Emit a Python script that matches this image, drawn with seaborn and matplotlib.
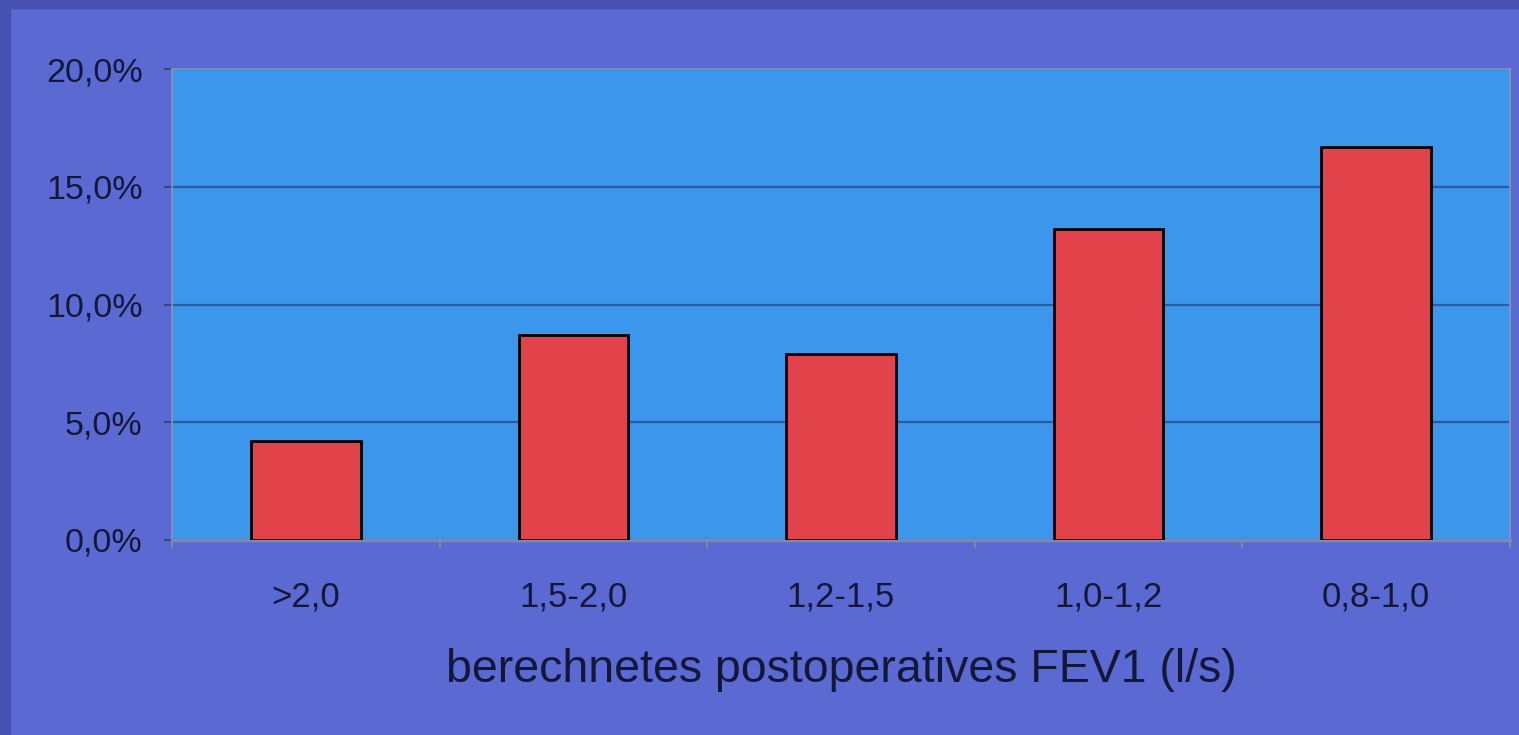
import numpy as np
import pandas as pd
import seaborn as sns
import matplotlib.pyplot as plt
from matplotlib.patches import Rectangle
from matplotlib.ticker import FuncFormatter, FixedLocator

# data
categories = [">2,0", "1,5-2,0", "1,2-1,5", "1,0-1,2", "0,8-1,0"]
values = [4.2, 8.7, 7.9, 13.2, 16.7]   # percent
y_ticks = [0, 5, 10, 15, 20]
x_label = "berechnetes postoperatives FEV1 (l/s)"

outer_bg = "#5b69d2"
frame_col = "#4650ae"
plot_bg = "#3c96ec"
bar_col = "#e2434b"
grid_col = "#2c5c9e"
text_col = "#141838"

sns.set_theme(style="white")
plt.rcParams['font.family'] = ['Liberation Sans', 'DejaVu Sans']

df = pd.DataFrame({"cat": categories, "val": values})

fig = plt.figure(figsize=(15.19, 7.35), dpi=100, facecolor=outer_bg)
# darker frame strips on left and top of the slide
fig.patches.append(Rectangle((0, 0), 10 / 1519, 1, transform=fig.transFigure,
                             color=frame_col, zorder=0))
fig.patches.append(Rectangle((0, 1 - 8 / 735), 1, 8 / 735, transform=fig.transFigure,
                             color=frame_col, zorder=0))

ax = fig.add_axes([172 / 1519, 1 - 540 / 735, (1510 - 172) / 1519, (540 - 69) / 735])
ax.set_facecolor(plot_bg)

sns.barplot(data=df, x="cat", y="val", ax=ax, color=bar_col, saturation=1,
            width=0.41, edgecolor="black", linewidth=2, zorder=3)

ax.set_ylim(0, 20)
ax.set_xlim(-0.5, len(categories) - 0.5)
ax.set_yticks(y_ticks)
ax.yaxis.set_major_formatter(FuncFormatter(lambda v, p: f"{v:.1f}%".replace(".", ",")))
ax.yaxis.grid(True, color=grid_col, linewidth=1.6, zorder=1)
ax.set_axisbelow(True)

for s in ["top", "left", "right"]:
    ax.spines[s].set_color("#8c94b8")
    ax.spines[s].set_linewidth(1.2)
ax.spines["bottom"].set_color("#8088a8")
ax.spines["bottom"].set_linewidth(2.5)

ax.tick_params(axis="y", labelsize=24.5, labelcolor=text_col, colors="#3a4680",
               left=True, length=6, width=1.5, pad=15)
ax.tick_params(axis="x", which="major", labelsize=25, labelcolor=text_col,
               bottom=False, pad=23)
ax.xaxis.set_minor_locator(FixedLocator(np.arange(len(categories) + 1) - 0.5))
ax.tick_params(axis="x", which="minor", bottom=True, length=6, width=1.5,
               color="#8088a8")

ax.set_xlabel(x_label, fontsize=33.5, color=text_col, labelpad=25)
ax.set_ylabel("")

fig.savefig("out.png", dpi=100, facecolor=outer_bg)
